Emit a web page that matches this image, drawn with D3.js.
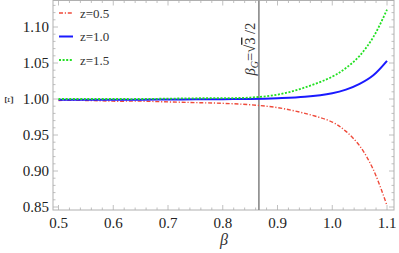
<!DOCTYPE html>
<html>
<head>
<meta charset="utf-8">
<script src="https://cdn.jsdelivr.net/npm/d3@7"></script>
<style>
  body { margin: 0; background: #fff; }
</style>
</head>
<body>
<div id="scene"></div>
<script>
var W = 399, H = 253;
var m = {left: 53, top: 0.5, right: 394, bottom: 210};
var serif = "'Liberation Serif'";

// beta samples
var betas = [0.5, 0.55, 0.6, 0.65, 0.7, 0.75, 0.8, 0.85, 0.9, 0.95, 1.0, 1.025, 1.05, 1.075, 1.1];
var xiZ05 = [0.998, 0.998, 0.997, 0.997, 0.996, 0.995, 0.994, 0.992, 0.988, 0.980, 0.968, 0.955, 0.935, 0.902, 0.852];
var xiZ10 = [0.999, 0.999, 0.999, 0.999, 0.9993, 0.9995, 0.9998, 1.000, 1.001, 1.003, 1.008, 1.013, 1.021, 1.033, 1.053];
var xiZ15 = [1.000, 1.000, 1.000, 1.000, 1.0005, 1.001, 1.0012, 1.002, 1.006, 1.016, 1.031, 1.043, 1.060, 1.086, 1.124];

var xTicks = [0.5, 0.6, 0.7, 0.8, 0.9, 1.0, 1.1];
var yTicks = [0.85, 0.90, 0.95, 1.00, 1.05, 1.10];
var betaG = Math.sqrt(3) / 2;

var series = [
  {name: "z=0.5", values: xiZ05, color: "#ef4a3a", width: 1.4, dash: "4,1.8,1.2,1.8"},
  {name: "z=1.0", values: xiZ10, color: "#1a1aff", width: 2, dash: null},
  {name: "z=1.5", values: xiZ15, color: "#22e022", width: 1.8, dash: "2,1.6"}
];

var x = d3.scaleLinear().domain([0.5, 1.1]).range([58.5, 387]);
var y = d3.scaleLinear().domain([0.85, 1.10]).range([207, 27]);

var svg = d3.select("#scene").append("svg")
  .attr("width", W).attr("height", H);

// frame
svg.append("rect")
  .attr("x", m.left).attr("y", m.top)
  .attr("width", m.right - m.left).attr("height", m.bottom - m.top)
  .attr("fill", "none").attr("stroke", "#b0b0b0").attr("stroke-width", 1);

var tickCol = "#b0b0b0";
var xMinor = d3.range(0.5, 1.1001, 0.02);
var yMinor = d3.range(0.85, 1.1301, 0.01);

var ticks = svg.append("g").attr("stroke", tickCol).attr("stroke-width", 0.8);
xMinor.forEach(function(t) {
  var major = xTicks.some(function(v) { return Math.abs(v - t) < 1e-6; });
  var len = major ? 5 : 2.5;
  ticks.append("line").attr("x1", x(t)).attr("x2", x(t)).attr("y1", m.bottom).attr("y2", m.bottom - len);
  ticks.append("line").attr("x1", x(t)).attr("x2", x(t)).attr("y1", m.top).attr("y2", m.top + len);
});
yMinor.forEach(function(t) {
  var major = yTicks.some(function(v) { return Math.abs(v - t) < 1e-6; });
  var len = major ? 5 : 2.5;
  ticks.append("line").attr("y1", y(t)).attr("y2", y(t)).attr("x1", m.left).attr("x2", m.left + len);
  ticks.append("line").attr("y1", y(t)).attr("y2", y(t)).attr("x1", m.right).attr("x2", m.right - len);
});

// tick labels
svg.append("g").selectAll("text").data(xTicks).enter().append("text")
  .attr("x", function(d) { return x(d); })
  .attr("y", 228)
  .attr("text-anchor", "middle")
  .style("font-family", serif)
  .attr("font-size", 15)
  .attr("fill", "#222")
  .text(function(d) { return d.toFixed(1); });

svg.append("g").selectAll("text").data(yTicks).enter().append("text")
  .attr("x", 49)
  .attr("y", function(d) { return y(d) + 5; })
  .attr("text-anchor", "end")
  .style("font-family", serif)
  .attr("font-size", 15)
  .attr("fill", "#222")
  .text(function(d) { return d.toFixed(2); });

// axis titles
svg.append("text")
  .attr("x", 224).attr("y", 245)
  .attr("text-anchor", "middle")
  .style("font-family", serif)
  .attr("font-size", 16).attr("font-style", "italic")
  .attr("fill", "#333")
  .text("β");

svg.append("text")
  .attr("transform", "translate(13,100) rotate(-90)")
  .attr("text-anchor", "middle")
  .style("font-family", serif)
  .attr("font-size", 13)
  .attr("fill", "#333")
  .text("Ξ");

// vertical line at beta_G
svg.append("line")
  .attr("x1", x(betaG)).attr("x2", x(betaG))
  .attr("y1", m.top).attr("y2", m.bottom)
  .attr("stroke", "#888").attr("stroke-width", 1.6);

var lbl = svg.append("text")
  .attr("transform", "translate(255,49) rotate(-90)")
  .attr("text-anchor", "middle")
  .style("font-family", serif)
  .attr("font-size", 14.5)
  .attr("fill", "#333");
lbl.append("tspan").attr("font-style", "italic").text("β");
lbl.append("tspan").attr("font-style", "italic").attr("font-size", 10).attr("dy", 3).text("G");
lbl.append("tspan").attr("dy", -3).text("=√");
lbl.append("tspan").style("text-decoration", "overline").text("3");
lbl.append("tspan").text(" /2");

// curves
var line = d3.line()
  .x(function(d) { return x(d[0]); })
  .y(function(d) { return y(d[1]); })
  .curve(d3.curveCatmullRom.alpha(0.5));

svg.append("g").selectAll("path").data(series).enter().append("path")
  .attr("d", function(s) { return line(betas.map(function(b, i) { return [b, s.values[i]]; })); })
  .attr("fill", "none")
  .attr("stroke", function(s) { return s.color; })
  .attr("stroke-width", function(s) { return s.width; })
  .attr("stroke-dasharray", function(s) { return s.dash; });

// legend
var leg = svg.append("g").selectAll("g").data(series).enter().append("g")
  .attr("transform", function(s, i) { return "translate(59," + (13 + i * 23.5) + ")"; });
leg.append("line")
  .attr("x1", 0).attr("x2", 14)
  .attr("stroke", function(s) { return s.color; })
  .attr("stroke-width", function(s) { return s.width; })
  .attr("stroke-dasharray", function(s) { return s.dash; });
leg.append("text")
  .attr("x", 21).attr("y", 4.5)
  .style("font-family", serif)
  .attr("font-size", 13)
  .attr("fill", "#333")
  .text(function(s) { return s.name; });
</script>
</body>
</html>
